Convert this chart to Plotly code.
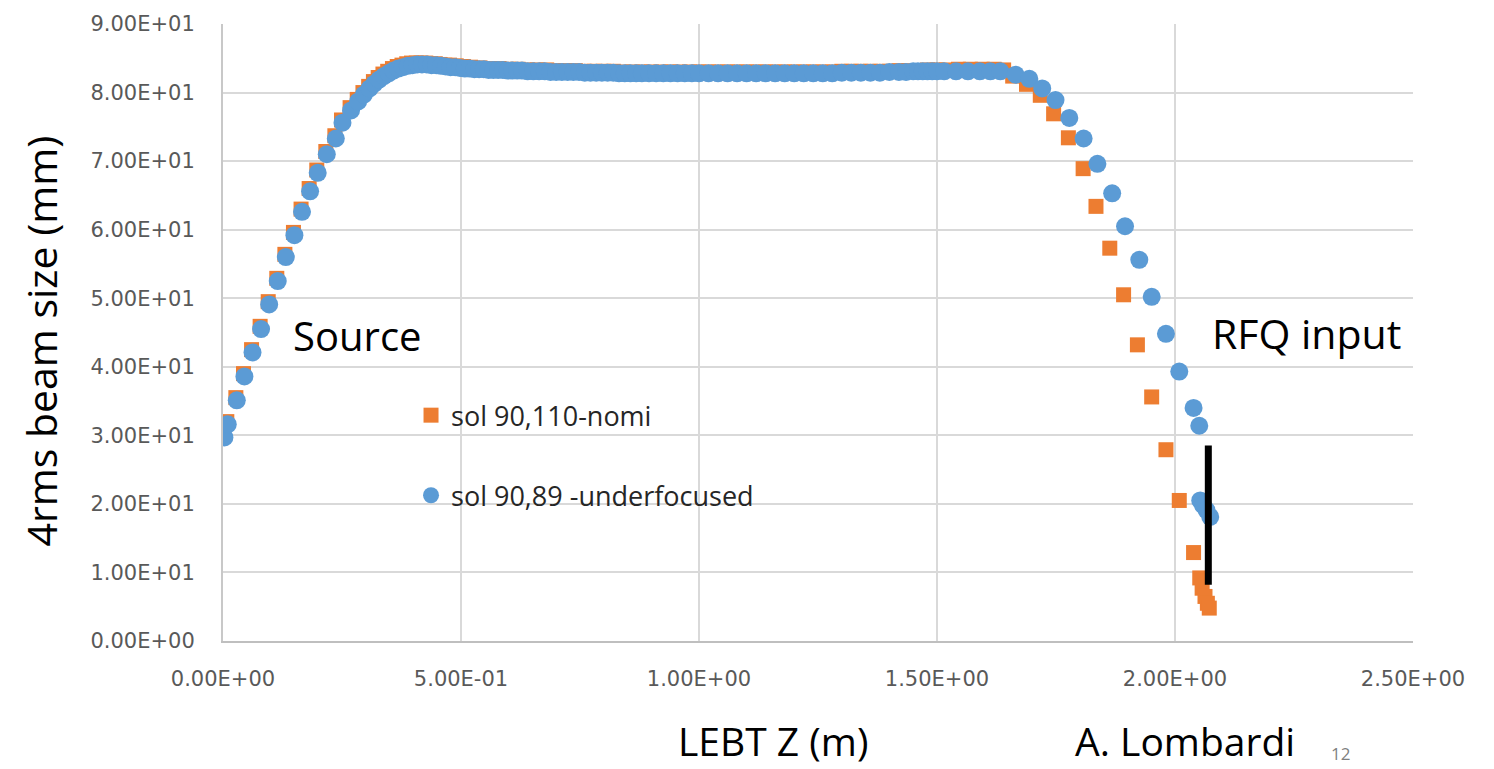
import plotly.graph_objects as go

# ---------------- data ----------------
x_ticks = [0.0, 0.5, 1.0, 1.5, 2.0, 2.5]
x_tick_labels = ["0.00E+00", "5.00E-01", "1.00E+00", "1.50E+00", "2.00E+00", "2.50E+00"]
y_ticks = [0, 10, 20, 30, 40, 50, 60, 70, 80, 90]
y_tick_labels = ["0.00E+00", "1.00E+01", "2.00E+01", "3.00E+01", "4.00E+01",
                 "5.00E+01", "6.00E+01", "7.00E+01", "8.00E+01", "9.00E+01"]

nomi_name = "sol 90,110-nomi"
nomi_z = [
    0.000, 0.008, 0.027, 0.043, 0.060, 0.078, 0.095, 0.113, 0.130, 0.148,
    0.164, 0.181, 0.197, 0.216, 0.235, 0.249, 0.267,
    0.282, 0.294, 0.306, 0.316, 0.326, 0.336, 0.346, 0.356, 0.366, 0.376,
    0.386, 0.396, 0.406, 0.416, 0.426, 0.436, 0.446, 0.456, 0.466, 0.476,
    0.490, 0.505, 0.520, 0.540, 0.560, 0.580, 0.600,
    0.620, 0.640, 0.660, 0.680, 0.700, 0.720, 0.740, 0.760, 0.780, 0.800,
    0.820, 0.840, 0.860, 0.880, 0.900, 0.920, 0.940, 0.960, 0.980, 1.000,
    1.020, 1.040, 1.060, 1.080, 1.100, 1.120, 1.140, 1.160, 1.180, 1.200,
    1.220, 1.240, 1.260, 1.280, 1.300, 1.320, 1.340, 1.360, 1.380, 1.400,
    1.420, 1.440, 1.460, 1.480, 1.500, 1.520,
    1.545, 1.570, 1.595, 1.620, 1.640,
    1.659, 1.688, 1.717, 1.745, 1.776, 1.807, 1.834, 1.863, 1.892, 1.921,
    1.951, 1.981, 2.009, 2.039, 2.052, 2.057, 2.063, 2.068, 2.072,
]
nomi_size = [
    30.1, 32.0, 35.5, 39.0, 42.5, 45.9, 49.5, 52.9, 56.4, 59.6,
    63.0, 66.0, 68.7, 71.4, 73.7, 76.0, 77.8,
    79.0, 80.0, 80.9, 81.6, 82.2, 82.7, 83.1, 83.5, 83.8, 84.0,
    84.2, 84.3, 84.3, 84.3, 84.3, 84.2, 84.2, 84.1, 84.0, 84.0,
    83.9, 83.8, 83.7, 83.6, 83.5, 83.5, 83.4,
    83.4, 83.3, 83.3, 83.3, 83.2, 83.2, 83.2, 83.1, 83.1, 83.1,
    83.1, 83.0, 83.0, 83.0, 83.0, 83.0, 83.0, 83.0, 83.0, 83.0,
    83.0, 83.0, 83.0, 83.0, 83.0, 83.0, 83.0, 83.0, 83.0, 83.0,
    83.0, 83.0, 83.0, 83.0, 83.1, 83.1, 83.1, 83.1, 83.1, 83.1,
    83.2, 83.2, 83.2, 83.3, 83.3, 83.3,
    83.4, 83.4, 83.4, 83.4, 83.3,
    82.4, 81.2, 79.6, 76.9, 73.4, 68.9, 63.4, 57.3, 50.5, 43.2,
    35.6, 27.9, 20.5, 12.9, 9.2, 7.7, 6.5, 5.5, 4.8,
]

under_name = "sol 90,89 -underfocused"
under_z = [
    0.003, 0.010, 0.029, 0.045, 0.062, 0.080, 0.097, 0.115, 0.132, 0.150,
    0.166, 0.183, 0.199, 0.218, 0.237, 0.251, 0.269,
    0.284, 0.296, 0.308, 0.318, 0.328, 0.338, 0.348, 0.358, 0.368, 0.378,
    0.388, 0.398, 0.408, 0.418, 0.428, 0.438, 0.448, 0.458, 0.468, 0.478,
    0.488, 0.498, 0.508,
    0.518, 0.528, 0.538, 0.548, 0.558, 0.568, 0.578, 0.588, 0.598, 0.608,
    0.618, 0.628,
    0.640, 0.652, 0.664, 0.676, 0.688, 0.700, 0.712, 0.724, 0.736, 0.748,
    0.760, 0.772, 0.784, 0.796, 0.808, 0.820, 0.832, 0.844, 0.856, 0.868,
    0.880,
    0.895, 0.910, 0.925, 0.940, 0.955, 0.970, 0.985, 1.000,
    1.020, 1.040, 1.060, 1.080, 1.100, 1.120, 1.140, 1.160, 1.180, 1.200,
    1.220, 1.240, 1.260, 1.280, 1.300, 1.320, 1.340, 1.360, 1.380, 1.400,
    1.420,
    1.435, 1.450, 1.460, 1.470, 1.480, 1.490, 1.500,
    1.515, 1.540, 1.565, 1.590, 1.612, 1.633,
    1.665, 1.694, 1.721, 1.749, 1.778, 1.808, 1.837, 1.868, 1.895, 1.925,
    1.951, 1.981, 2.009, 2.039, 2.051, 2.053, 2.059, 2.066, 2.074,
]
under_size = [
    29.7, 31.6, 35.1, 38.6, 42.1, 45.5, 49.1, 52.5, 56.0, 59.2,
    62.6, 65.6, 68.3, 71.0, 73.3, 75.6, 77.4,
    78.7, 79.7, 80.6, 81.3, 81.9, 82.4, 82.8, 83.2, 83.5, 83.7,
    83.9, 84.0, 84.1, 84.1, 84.1, 84.0, 84.0, 83.9, 83.8, 83.7,
    83.7, 83.6, 83.5,
    83.5, 83.4, 83.4, 83.4, 83.3, 83.3, 83.3, 83.3, 83.2, 83.2,
    83.2, 83.2,
    83.1, 83.1, 83.1, 83.1, 83.0, 83.0, 83.0, 83.0, 83.0, 83.0,
    82.9, 82.9, 82.9, 82.9, 82.9, 82.9, 82.8, 82.8, 82.8, 82.8,
    82.8,
    82.8, 82.8, 82.8, 82.8, 82.8, 82.8, 82.8, 82.8,
    82.8, 82.8, 82.8, 82.8, 82.8, 82.8, 82.8, 82.8, 82.8, 82.8,
    82.8, 82.8, 82.8, 82.8, 82.9, 82.9, 82.9, 82.9, 82.9, 83.0,
    83.0,
    83.0, 83.1, 83.1, 83.1, 83.1, 83.1, 83.1,
    83.1, 83.1, 83.1, 83.1, 83.1, 83.1,
    82.6, 82.0, 80.6, 78.9, 76.3, 73.3, 69.6, 65.3, 60.5, 55.6,
    50.2, 44.8, 39.3, 34.0, 31.4, 20.5, 19.8, 19.1, 18.1,
]

marker_bar_z = [2.070, 2.070]
marker_bar_size = [8.2, 28.5]

assert len(nomi_z) == len(nomi_size)
assert len(under_z) == len(under_size)

# ---------------- styling ----------------
ORANGE = "#ED7D31"
BLUE = "#5B9BD5"
GRID = "#D9D9D9"
TICK = "#595959"
TEXT_FONT = "Open Sans"

fig = go.Figure()
fig.add_trace(go.Scatter(
    x=nomi_z, y=nomi_size, mode="markers", name=nomi_name,
    marker=dict(symbol="square", size=15, color=ORANGE),
    legendgroup="a",
))
fig.add_trace(go.Scatter(
    x=under_z, y=under_size, mode="markers", name=under_name,
    marker=dict(symbol="circle", size=18, color=BLUE),
    legendgroup="b",
))
fig.add_trace(go.Scatter(
    x=marker_bar_z, y=marker_bar_size, mode="lines",
    line=dict(color="black", width=7), showlegend=False, hoverinfo="skip",
))

axis_common = dict(
    showgrid=True, gridcolor=GRID, gridwidth=2,
    zeroline=False,
    tickfont=dict(family="DejaVu Sans", size=21, color=TICK),
    ticks="",
)

fig.update_layout(
    width=1494, height=769, autosize=False,
    margin=dict(l=223, r=81, t=20, b=128),
    paper_bgcolor="white", plot_bgcolor="white",
    xaxis=dict(range=[0, 2.5], tickvals=x_ticks, ticktext=x_tick_labels,
               showline=True, linecolor="#BFBFBF", linewidth=2,
               ticklabelstandoff=18, **axis_common),
    yaxis=dict(range=[0, 90], tickvals=y_ticks, ticktext=y_tick_labels,
               showline=True, linecolor="#C8C8C8", linewidth=2,
               ticklabelstandoff=22, **axis_common),
    showlegend=True,
    legend=dict(
        x=0.158, y=0.405, xanchor="left", yanchor="top",
        bgcolor="rgba(0,0,0,0)", tracegroupgap=42,
        font=dict(family=TEXT_FONT, size=27, color="#262626"),
        itemsizing="trace",
    ),
    font=dict(family=TEXT_FONT),
)

annots = [
    dict(text="Source", x=0.283, y=44.6, xref="x", yref="y", size=40, color="black"),
    dict(text="RFQ input", x=2.277, y=44.9, xref="x", yref="y", size=41, color="black"),
    dict(text="LEBT Z (m)", x=0.4626, y=-0.162, xref="paper", yref="paper", size=39, color="black"),
    dict(text="A. Lombardi", x=0.8086, y=-0.162, xref="paper", yref="paper", size=39, color="black"),
    dict(text="12", x=0.9387, y=-0.183, xref="paper", yref="paper", size=17, color="#7F7F7F"),
]
for a in annots:
    fig.add_annotation(
        text=a["text"], x=a["x"], y=a["y"], xref=a["xref"], yref=a["yref"],
        showarrow=False, xanchor="center", yanchor="middle",
        font=dict(family=TEXT_FONT, size=a["size"], color=a["color"]),
    )
fig.add_annotation(
    text="4rms beam size (mm)", x=-0.153, y=0.487, xref="paper", yref="paper",
    showarrow=False, textangle=-90, xanchor="center", yanchor="middle",
    font=dict(family=TEXT_FONT, size=41, color="black"),
)

fig.write_html("out.html", config={"displayModeBar": False},
               post_script="document.body.style.margin='0px';")
